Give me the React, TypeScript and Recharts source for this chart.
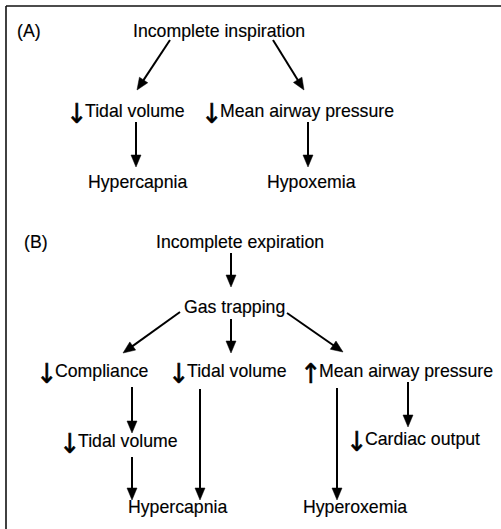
import React from 'react';
import { ScatterChart, Scatter, XAxis, YAxis, ReferenceLine } from 'recharts';

const W = 501;
const H = 529;

// Diagram nodes (data coordinates: x = text start, y = baseline)
const nodeLabels = [
  '(A)', 'Incomplete inspiration', 'Tidal volume', 'Mean airway pressure', 'Hypercapnia', 'Hypoxemia',
  '(B)', 'Incomplete expiration', 'Gas trapping', 'Compliance', 'Tidal volume', 'Mean airway pressure',
  'Tidal volume', 'Cardiac output', 'Hypercapnia', 'Hyperoxemia',
];
const nodeX = [17, 133, 85, 220, 88, 267, 24, 156, 184, 55, 187, 319, 78, 365, 128, 303];
const nodeY = [37, 37, 117, 117, 188, 188, 248, 248, 313, 377, 377, 377, 447, 445, 513, 513];
const nodeMarks = ['', '', '↓', '↓', '', '', '', '', '', '↓', '↓', '↑', '↓', '↓', '', ''];

// Arrows: tail -> head
const arrowFromX = [170, 273, 136, 308, 231, 180, 231, 287, 132, 200, 337, 408, 132];
const arrowFromY = [40, 40, 122, 122, 253, 312, 319, 313, 387, 389, 388, 382, 457];
const arrowToX = [137, 304, 136, 308, 231, 123, 231, 343, 132, 200, 337, 408, 132];
const arrowToY = [90, 90, 167, 167, 287, 353, 353, 352, 433, 500, 500, 427, 500];

// Frame (top and left edges)
const frameFromX = [6, 6];
const frameFromY = [6, 6];
const frameToX = [501, 6];
const frameToY = [6, 529];

const nodes = nodeLabels.map((label, i) => ({ x: nodeX[i], y: nodeY[i], label, mark: nodeMarks[i] }));

const FONT = '"Liberation Sans", Arial, Helvetica, sans-serif';

const ArrowShape = (props: any) => {
  const { x1, y1, x2, y2 } = props;
  const dx = x2 - x1;
  const dy = y2 - y1;
  const len = Math.hypot(dx, dy) || 1;
  const ux = dx / len;
  const uy = dy / len;
  const hl = 12;
  const hw = 5;
  const bx = x2 - ux * hl;
  const by = y2 - uy * hl;
  const px = -uy;
  const py = ux;
  const pts = `${x2},${y2} ${bx + px * hw},${by + py * hw} ${bx - px * hw},${by - py * hw}`;
  return (
    <g>
      <line x1={x1} y1={y1} x2={bx + ux * 2} y2={by + uy * 2} stroke="#000" strokeWidth={2} />
      <polygon points={pts} fill="#000" stroke="#000" strokeWidth={0.5} />
    </g>
  );
};

const FrameShape = (props: any) => {
  const { x1, y1, x2, y2 } = props;
  return <line x1={x1} y1={y1} x2={x2} y2={y2} stroke="#111" strokeWidth={1.6} />;
};

const NodeShape = (props: any) => {
  const { cx, cy, payload } = props;
  return (
    <g>
      {payload.mark ? (
        <g transform={`translate(${cx - 8},${cy - 2}) scale(1.5,1.6)`}>
          <text
            x={0}
            y={5}
            textAnchor="middle"
            fontFamily='"DejaVu Sans", sans-serif'
            fontSize={17}
            fill="#000"
            stroke="#000"
            strokeWidth={0.35}
          >
            {payload.mark}
          </text>
        </g>
      ) : null}
      <text x={cx} y={cy} fontFamily={FONT} fontSize={17.7} fill="#000" stroke="#000" strokeWidth={0.15}>
        {payload.label}
      </text>
    </g>
  );
};

export default function App() {
  return (
    <div style={{ position: 'absolute', left: 0, top: 0, width: W, height: H, background: '#fff' }}>
      <ScatterChart width={W} height={H} margin={{ top: 0, right: 0, bottom: 0, left: 0 }}>
        <XAxis type="number" dataKey="x" domain={[0, W]} hide allowDataOverflow />
        <YAxis type="number" dataKey="y" domain={[0, H]} reversed hide allowDataOverflow />
        {frameFromX.map((_, i) => (
          <ReferenceLine
            key={`f${i}`}
            segment={[
              { x: frameFromX[i], y: frameFromY[i] },
              { x: frameToX[i], y: frameToY[i] },
            ]}
            shape={FrameShape}
            ifOverflow="visible"
          />
        ))}
        {arrowFromX.map((_, i) => (
          <ReferenceLine
            key={`a${i}`}
            segment={[
              { x: arrowFromX[i], y: arrowFromY[i] },
              { x: arrowToX[i], y: arrowToY[i] },
            ]}
            shape={ArrowShape}
            ifOverflow="visible"
          />
        ))}
        <Scatter data={nodes} shape={NodeShape} isAnimationActive={false} />
      </ScatterChart>
    </div>
  );
}
